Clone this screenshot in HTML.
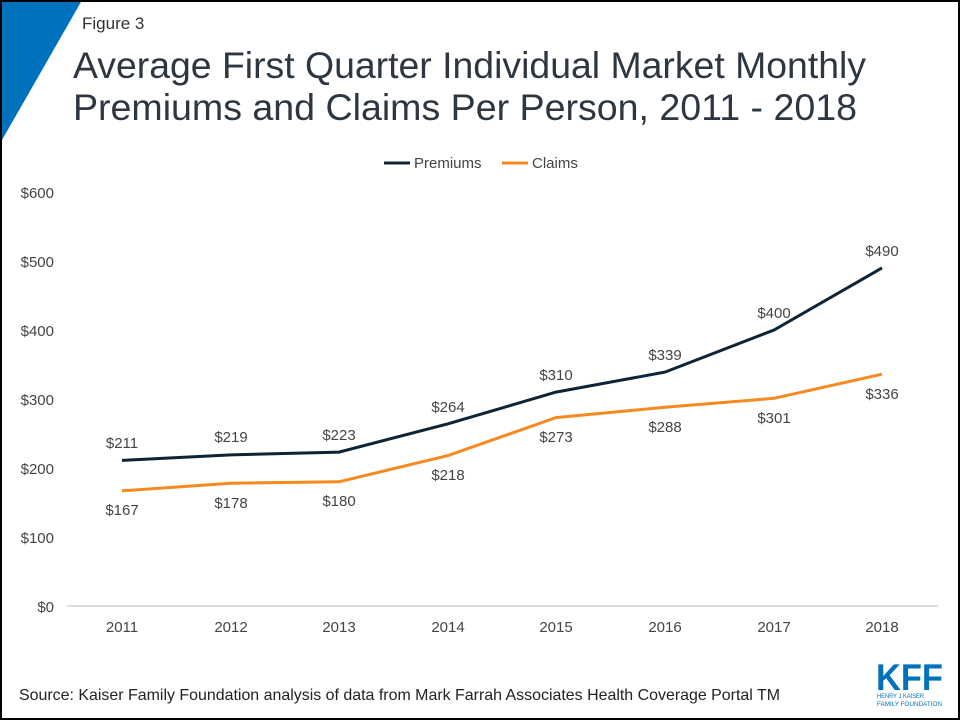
<!DOCTYPE html>
<html><head><meta charset="utf-8"><style>
body{margin:0;background:#fff}
svg{display:block;font-family:"Liberation Sans",Arial,sans-serif}
</style></head><body>
<svg width="960" height="720" viewBox="0 0 960 720">
<rect x="0" y="0" width="960" height="720" fill="#fff"/>
<polygon points="2,2 81,2 2,140" fill="#0071bc"/>
<rect x="1" y="1" width="958" height="718" fill="none" stroke="#000" stroke-width="2"/>
<text x="82" y="29" font-size="17" fill="#333">Figure 3</text>
<text x="73" y="78" font-size="37.5" fill="#2d3742" textLength="793" lengthAdjust="spacingAndGlyphs">Average First Quarter Individual Market Monthly</text>
<text x="73" y="120" font-size="37.5" fill="#2d3742" textLength="784" lengthAdjust="spacingAndGlyphs">Premiums and Claims Per Person, 2011 - 2018</text>
<line x1="384" y1="163" x2="410" y2="163" stroke="#0d2436" stroke-width="3"/>
<text x="414" y="168" font-size="15" fill="#444">Premiums</text>
<line x1="502" y1="163" x2="528" y2="163" stroke="#f58a20" stroke-width="3"/>
<text x="532" y="168" font-size="15" fill="#444">Claims</text>
<g font-size="15" fill="#444" text-anchor="end">
<text x="54" y="198">$600</text><text x="54" y="267">$500</text><text x="54" y="336">$400</text>
<text x="54" y="405">$300</text><text x="54" y="474">$200</text><text x="54" y="543">$100</text><text x="54" y="612">$0</text>
</g>
<line x1="67" y1="606" x2="938" y2="606" stroke="#bbb" stroke-width="1"/>
<g font-size="15" fill="#444" text-anchor="middle">
<text x="122" y="632">2011</text><text x="231" y="632">2012</text><text x="339" y="632">2013</text><text x="448" y="632">2014</text>
<text x="556" y="632">2015</text><text x="665" y="632">2016</text><text x="774" y="632">2017</text><text x="882" y="632">2018</text>
</g>
<polyline fill="none" stroke="#0d2436" stroke-width="3" points="122,460.4 231,454.9 339,452.1 448,423.8 556,392.1 665,372.1 774,330 882,267.9"/>
<polyline fill="none" stroke="#f58a20" stroke-width="3" points="122,490.8 231,483.2 339,481.8 448,455.6 556,417.6 665,407.3 774,398.3 882,374.2"/>
<g font-size="15" fill="#444" text-anchor="middle">
<text x="122" y="448">$211</text><text x="231" y="442">$219</text><text x="339" y="440">$223</text><text x="448" y="412">$264</text>
<text x="556" y="380">$310</text><text x="665" y="360">$339</text><text x="774" y="318">$400</text><text x="882" y="256">$490</text>
<text x="122" y="515">$167</text><text x="231" y="508">$178</text><text x="339" y="506">$180</text><text x="448" y="480">$218</text>
<text x="556" y="442">$273</text><text x="665" y="432">$288</text><text x="774" y="423">$301</text><text x="882" y="399">$336</text>
</g>
<text x="19" y="700" font-size="15.8" fill="#222" textLength="761" lengthAdjust="spacingAndGlyphs">Source: Kaiser Family Foundation analysis of data from Mark Farrah Associates Health Coverage Portal TM</text>
<text x="876" y="690" font-size="37" font-weight="bold" fill="#0071bc" textLength="67" lengthAdjust="spacingAndGlyphs">KFF</text>
<text x="877" y="698" font-size="6.5" fill="#0071bc" textLength="47" lengthAdjust="spacingAndGlyphs">HENRY J KAISER</text>
<text x="877" y="706" font-size="6.5" fill="#0071bc" textLength="65" lengthAdjust="spacingAndGlyphs">FAMILY FOUNDATION</text>
</svg>
</body></html>
